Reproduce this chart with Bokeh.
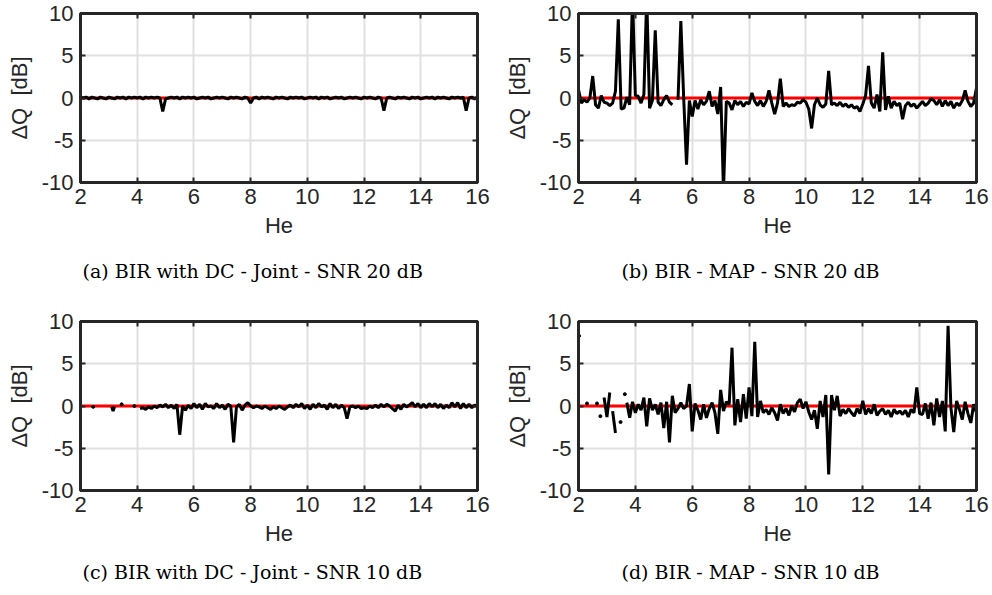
from bokeh.plotting import figure
from bokeh.layouts import column, row
from bokeh.models import FixedTicker, Title, Range1d, Span, LinearAxis
from bokeh.embed import file_html
from bokeh.resources import INLINE

nan = float("nan")

# He sample positions (step 0.1 from 2 to 16)
he = [round(2 + 0.1 * i, 1) for i in range(141)]

x_ticks = [2, 4, 6, 8, 10, 12, 14, 16]
y_ticks = [-10, -5, 0, 5, 10]
y_tick_labels = {-10: "-10", -5: "-5", 0: "0", 5: "5", 10: "10"}

captions = [
    "(a) BIR with DC - Joint - SNR 20 dB",
    "(b) BIR - MAP - SNR 20 dB",
    "(c) BIR with DC - Joint - SNR 10 dB",
    "(d) BIR - MAP - SNR 10 dB",
]

a_dq = [
    0.1, 0.0, 0.1, -0.1, 0.1, 0.0, -0.1, 0.1, 0.0, -0.1,
    0.1, 0.0, -0.1, 0.1, 0.0, 0.1, -0.1, 0.1, 0.0, 0.1,
    0.0, 0.1, -0.1, 0.1, 0.0, 0.1, 0.0, 0.1, 0.0, -1.6,
    -0.1, 0.0, 0.1, 0.0, 0.1, -0.1, 0.1, 0.0, 0.1, 0.0,
    0.1, -0.1, 0.0, 0.1, 0.0, 0.1, -0.1, 0.0, 0.1, 0.0,
    0.1, 0.0, -0.1, 0.1, 0.0, 0.1, 0.0, -0.1, 0.1, 0.0,
    -0.6, 0.0, 0.1, -0.1, 0.1, 0.0, 0.1, 0.0, -0.1, 0.1,
    0.0, 0.1, 0.0, -0.1, 0.1, 0.0, 0.1, 0.0, 0.1, -0.1,
    0.0, 0.1, 0.0, 0.1, -0.1, 0.1, 0.0, 0.1, -0.1, 0.0,
    0.1, 0.0, 0.1, -0.1, 0.0, 0.1, 0.0, 0.1, 0.0, -0.1,
    0.1, 0.0, 0.1, 0.0, -0.1, 0.1, 0.0, -1.5, 0.0, 0.1,
    0.0, -0.1, 0.1, 0.0, 0.1, 0.0, -0.1, 0.1, 0.0, 0.1,
    -0.1, 0.0, 0.1, 0.0, 0.1, -0.1, 0.1, 0.0, 0.1, 0.0,
    -0.1, 0.1, 0.0, 0.1, 0.0, 0.1, -1.5, 0.0, 0.1, -0.1,
    0.1,
]

b_dq = [
    1.0, -0.6, -0.2, -0.5, 0.0, 2.6, -0.8, -1.2, 0.3, -0.5,
    -0.6, -0.9, -0.6, 0.8, 9.3, -1.3, -1.2, 0.1, -0.8, 12.0,
    0.3, 0.2, -0.6, 0.4, 12.0, -1.2, -0.3, 8.0, -0.5, -0.9,
    -0.2, 0.3, -0.5, -0.8, nan, -0.2, 9.1, 0.0, -7.9, -0.3,
    -2.2, -0.3, -1.3, -0.2, -0.8, -0.4, 0.8, -1.0, -0.3, -1.9,
    1.3, -11.0, -0.4, -0.6, -1.4, -0.3, -0.8, -0.4, -1.0, -0.5,
    -0.7, 0.6, -0.4, -0.9, -0.3, -1.0, -0.4, 0.9, -0.6, -1.9,
    -0.6, 2.3, -1.0, -0.6, -1.0, -0.8, -0.9, -0.5, -0.6, -0.2,
    -0.5, -1.3, -3.6, -0.8, 0.0, -0.8, -1.1, -0.7, 3.2, -0.8,
    -0.6, -0.9, -0.5, -1.0, -0.7, -1.1, -0.8, -1.2, -1.0, -1.6,
    -0.7, 0.3, 3.8, -0.6, -1.2, 0.4, -1.6, 5.4, -1.4, 0.2,
    -1.2, -0.4, -0.9, -0.6, -2.5, -0.9, -0.5, -1.0, -0.7, -1.2,
    -0.8, -0.4, -0.9, -0.6, -0.1, -0.3, -0.8, -0.2, -1.0, -0.3,
    -0.9, -0.4, -1.2, -0.6, -0.9, -0.3, 0.9, -0.4, -1.0, -0.6,
    1.2,
]

c_dq = [
    nan, nan, nan, nan, nan, nan, nan, nan, nan, nan,
    nan, nan, nan, nan, nan, nan, nan, nan, nan, nan,
    nan, -0.3, -0.2, -0.4, -0.1, -0.3, 0.0, -0.2, 0.1, -0.1,
    0.2, -0.2, 0.1, -0.3, 0.2, -3.4, 0.0, -0.5, 0.1, -0.3,
    0.3, -0.2, 0.2, -0.4, 0.3, -0.1, 0.0, -0.3, 0.3, -0.2,
    0.1, -0.4, 0.2, 0.0, -4.3, -0.1, 0.2, -0.5, 0.1, 0.4,
    0.0, -0.2, 0.0, -0.1, -0.3, 0.0, -0.2, -0.4, -0.1, -0.3,
    0.0, -0.2, -0.4, -0.1, 0.1, -0.2, 0.2, -0.1, 0.3, -0.3,
    0.1, -0.4, 0.2, -0.2, 0.3, -0.1, 0.1, -0.4, 0.3, -0.2,
    0.2, -0.3, 0.1, -0.2, -1.5, -0.1, 0.0, -0.2, 0.0, -0.3,
    -0.2, -0.3, 0.0, -0.2, 0.1, -0.2, 0.2, -0.1, 0.2, 0.0,
    -0.3, -0.6, 0.1, -0.4, 0.2, -0.1, 0.1, 0.4, -0.1, 0.3,
    -0.2, 0.2, -0.2, 0.3, -0.1, 0.3, -0.2, 0.2, -0.3, 0.1,
    -0.2, 0.4, -0.1, 0.4, -0.3, 0.3, -0.2, 0.2, -0.2, 0.1,
    0.0,
]
c_frag_he = [3.1, 3.15, 3.2]
c_frag_dq = [-0.1, -0.6, -0.1]
c_dot_he = [2.0, 2.45, 3.45, 3.9]
c_dot_dq = [0.0, -0.1, 0.2, 0.0]

d_dq = [
    nan, nan, nan, nan, nan, nan, nan, nan, nan, 1.0,
    -1.3, 1.6, nan, nan, nan, nan, nan, 0.4, -1.4, 0.5,
    -0.8, 0.2, -0.5, 1.0, -2.4, 0.9, -0.5, 0.2, -1.0, 0.4,
    -2.6, 0.5, -4.3, 1.2, -0.8, -0.3, 0.4, -0.3, 0.0, 2.6,
    -3.0, 0.3, -0.5, -1.6, 0.2, -1.4, -0.3, 0.4, -0.8, -3.3,
    1.9, -0.6, 0.5, 0.2, 6.9, -2.3, 0.8, -1.9, 1.4, -1.5,
    2.2, -1.2, 7.6, -1.3, 0.6, -0.8, -0.4, -1.0, -0.2, -0.8,
    -1.7, 0.2, -0.9, -0.3, -1.1, 0.0, -0.7, 0.4, 0.8, -0.3,
    0.5, -0.7, -1.6, -0.5, -2.7, 0.6, -1.3, 1.3, -8.1, 1.3,
    -0.5, 1.2, -1.2, -0.4, -0.9, -0.3, -0.8, -1.2, -0.3, -0.9,
    0.6, -1.0, -0.3, -0.9, 0.2, -1.1, -0.6, -0.3, -1.0, -0.5,
    -1.3, -0.4, -0.9, -0.6, -1.0, -0.5, -1.3, -0.4, -0.8, 2.2,
    -0.9, -1.0, 0.3, -1.5, 0.4, -2.3, 0.9, -1.3, 0.6, -3.0,
    9.5, -0.2, -3.1, 0.6, -0.4, -1.6, 0.5, -0.9, -2.0, 0.2,
    -0.8,
]
d_frag_he = [3.2, 3.3]
d_frag_dq = [-0.6, -3.2]
d_dot_he = [2.02, 2.3, 2.65, 2.77, 3.48, 3.63]
d_dot_dq = [8.3, 0.3, 0.3, -1.2, -1.9, 1.4]

AX = "#262626"
SANS = "Liberation Sans"
SERIF = "DejaVu Serif"


def style_axis(ax):
    ax.axis_line_color = AX
    ax.axis_line_width = 3
    ax.major_tick_line_color = AX
    ax.major_tick_line_width = 2
    ax.major_tick_in = 5
    ax.major_tick_out = 0
    ax.minor_tick_line_color = None
    ax.major_label_text_font = SANS
    ax.major_label_text_font_size = "22px"
    ax.major_label_text_color = AX
    ax.axis_label_text_font = SANS
    ax.axis_label_text_font_size = "22px"
    ax.axis_label_text_font_style = "normal"
    ax.axis_label_text_color = AX


def box_axis(ticks):
    ax = LinearAxis(ticker=FixedTicker(ticks=ticks),
                    major_label_overrides={t: "" for t in ticks})
    style_axis(ax)
    ax.major_label_text_font_size = "1px"
    ax.major_label_standoff = 0
    return ax


def panel(dq, caption, left, right, fw, bottom, standoff, offset,
          frag=None, dots=None):
    p = figure(frame_width=fw, frame_height=169,
               x_range=Range1d(2, 16), y_range=Range1d(-10, 10),
               output_backend="svg", toolbar_location=None,
               min_border_left=left, min_border_right=right,
               min_border_top=13, min_border_bottom=bottom)
    p.xaxis.ticker = FixedTicker(ticks=x_ticks)
    p.yaxis.ticker = FixedTicker(ticks=y_ticks)
    p.yaxis.major_label_overrides = y_tick_labels
    p.xgrid.ticker = FixedTicker(ticks=x_ticks[1:-1])
    p.ygrid.ticker = FixedTicker(ticks=y_ticks[1:-1])
    p.xaxis.axis_label = "He"
    p.yaxis.axis_label = "ΔQ\u00a0\u00a0[dB]"
    for ax in (p.xaxis, p.yaxis):
        style_axis(ax)
    p.xaxis.major_label_standoff = 6
    p.xaxis.axis_label_standoff = 6
    p.yaxis.major_label_standoff = 7
    p.yaxis.axis_label_standoff = 7
    p.add_layout(box_axis(x_ticks), "above")
    p.add_layout(box_axis(y_ticks), "right")
    p.grid.grid_line_color = "#e0e0e0"
    p.grid.grid_line_width = 2
    p.outline_line_color = AX
    p.outline_line_width = 3
    p.outline_line_alpha = 1
    p.add_layout(Span(location=0, dimension="width", line_color="#ff0000",
                      line_width=3, level="underlay"))
    p.line(he, dq, line_color="black", line_width=3)
    if frag is not None:
        p.line(frag[0], frag[1], line_color="black", line_width=3)
    if dots is not None:
        p.scatter(dots[0], dots[1], size=3, color="black")
    t = Title(text=caption, align="left", text_font=SERIF,
              text_font_size="19px", text_font_style="normal",
              text_color="black", standoff=standoff, offset=offset)
    p.add_layout(t, "below")
    return p


pa = panel(a_dq, captions[0], 80, 19, 397, 126, 34, 2)
pb = panel(b_dq, captions[1], 82, 16, 398, 126, 34, 43)
pc = panel(c_dq, captions[2], 80, 19, 397, 105, 20, 2,
           frag=(c_frag_he, c_frag_dq), dots=(c_dot_he, c_dot_dq))
pd = panel(d_dq, captions[3], 82, 16, 398, 105, 20, 43,
           frag=(d_frag_he, d_frag_dq), dots=(d_dot_he, d_dot_dq))

layout = column(row(pa, pb), row(pc, pd))
open("out.html", "w").write(file_html(layout, INLINE))
